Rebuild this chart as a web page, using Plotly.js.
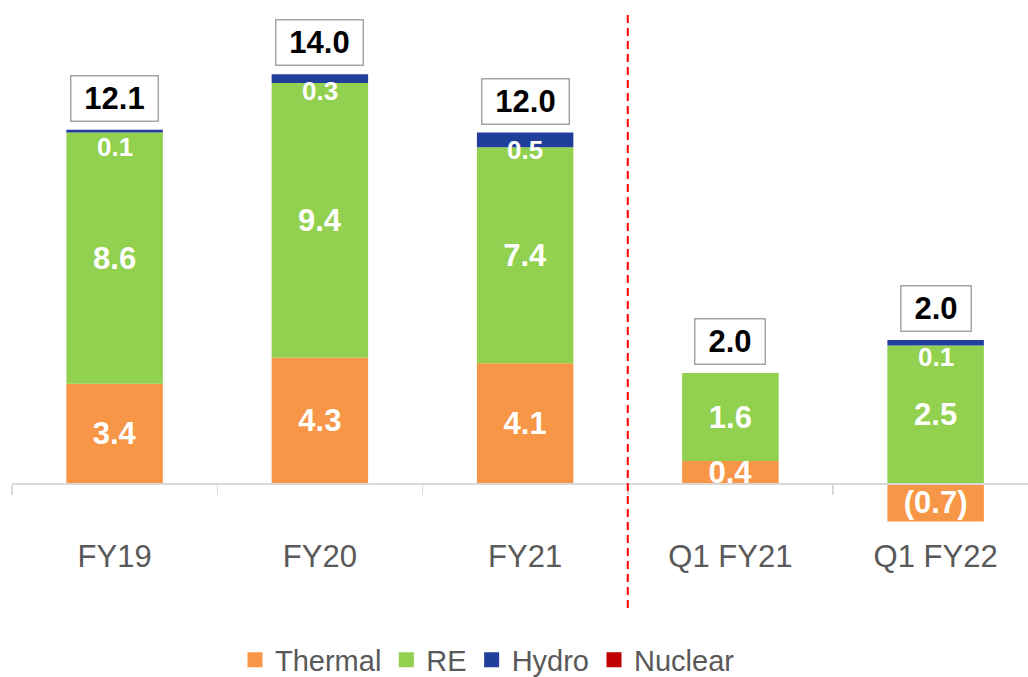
<!DOCTYPE html>
<html>
<head>
<meta charset="utf-8">
<script src="https://cdn.plot.ly/plotly-3.0.1.min.js"></script>
<style>html,body{margin:0;padding:0;background:#fff;}#chart{width:1028px;height:677px;}</style>
</head>
<body>
<div id="chart"></div>
<script>
// ---- data ----
const categories = ["FY19", "FY20", "FY21", "Q1 FY21", "Q1 FY22"];
const thermal = [3.4, 4.3, 4.1, 0.4, -0.7];
const re      = [8.6, 9.4, 7.4, 1.6, 2.5];
const hydro   = [0.1, 0.3, 0.5, 0.0, 0.1];
const nuclear = [0, 0, 0, 0, 0];
const totals  = [12.1, 14.0, 12.0, 2.0, 2.0];

// ---- helpers ----
const nAnnual = 3;
const colors = {Thermal: "#F79646", RE: "#92D050", Hydro: "#203F9A", Nuclear: "#C00000"};
const FONT = "Liberation Sans, Arial, sans-serif";
function fmt(v) { return v < 0 ? "(" + Math.abs(v).toFixed(1) + ")" : v.toFixed(1); }
function part(arr, annual) { return annual ? arr.slice(0, nAnnual) : arr.slice(nAnnual); }

const series = [
  {name: "Thermal", vals: thermal, label: true},
  {name: "RE", vals: re, label: true},
  {name: "Hydro", vals: hydro, label: false},
  {name: "Nuclear", vals: nuclear, label: false}
];

const traces = [];
// legend entries (square swatches)
series.forEach(s => {
  traces.push({
    type: "scatter", mode: "markers", name: s.name, legendgroup: s.name,
    x: [null], y: [null], showlegend: true, hoverinfo: "skip",
    marker: {symbol: "square", size: 15, color: colors[s.name], line: {width: 0}}
  });
});
[true, false].forEach(annual => {
  series.forEach(s => {
    const ys = part(s.vals, annual);
    traces.push({
      type: "bar",
      name: s.name,
      legendgroup: s.name,
      showlegend: false,
      x: part(categories, annual),
      y: ys,
      yaxis: annual ? "y" : "y2",
      marker: {color: colors[s.name], line: {width: 0}},
      text: s.label ? ys.map(fmt) : ys.map(() => ""),
      textposition: "inside",
      insidetextanchor: "middle",
      textangle: 0,
      textfont: {family: FONT, size: 31, color: "#FFFFFF", weight: "bold"},
      hoverinfo: "x+y+name"
    });
  });
});

function boxWidth(str, size) {
  let w = 0;
  for (const ch of str) w += (ch === "." ? 0.278 : 0.556);
  return Math.round(w * size + 24);
}

const annotations = [];
categories.forEach((c, i) => {
  const annual = i < nAnnual;
  const yref = annual ? "y" : "y2";
  const posTop = [thermal[i], re[i], hydro[i], nuclear[i]].filter(v => v > 0).reduce((a, b) => a + b, 0);
  if (hydro[i] > 0) {
    annotations.push({
      x: c, y: posTop, xref: "x", yref: yref, yanchor: "top", yshift: 0,
      text: "<b>" + fmt(hydro[i]) + "</b>", showarrow: false,
      font: {family: FONT, size: 26, color: "#FFFFFF"}
    });
  }
  const t = fmt(totals[i]);
  annotations.push({
    x: c, y: posTop, xref: "x", yref: yref, yanchor: "bottom", yshift: 8,
    text: "<b>" + t + "</b>", showarrow: false,
    font: {family: FONT, size: 31, color: "#000000"},
    bgcolor: "#FFFFFF", bordercolor: "#A6A6A6", borderwidth: 1.5,
    width: boxWidth(t, 31), height: 42, borderpad: 1
  });
});

const plotH = 600, zeroPx = 483;
const zeroFrac = (plotH - zeroPx) / plotH;
const pxPerUnitY = 29.2, pxPerUnitY2 = 55;

const layout = {
  width: 1028, height: 677,
  margin: {l: 12, r: 0, t: 0, b: 677 - plotH, autoexpand: false},
  paper_bgcolor: "#FFFFFF", plot_bgcolor: "#FFFFFF",
  barmode: "relative",
  bargap: 0.53,
  showlegend: true,
  font: {family: FONT, color: "#595959"},
  uniformtext: {mode: "show", minsize: 31},
  xaxis: {
    type: "category",
    categoryorder: "array", categoryarray: categories,
    range: [-0.5, 4.45],
    anchor: "free", position: zeroFrac,
    showline: true, linecolor: "#D9D9D9", linewidth: 1.5,
    ticks: "outside", tickson: "boundaries", ticklen: 10, tickcolor: "#D9D9D9", tickwidth: 1.5,
    ticklabelstandoff: 45,
    tickfont: {family: FONT, size: 31, color: "#595959"},
    showgrid: false, zeroline: false, fixedrange: true, automargin: false
  },
  yaxis: {
    range: [-(plotH - zeroPx) / pxPerUnitY, zeroPx / pxPerUnitY],
    visible: false, showgrid: false, zeroline: false, fixedrange: true
  },
  yaxis2: {
    overlaying: "y",
    range: [-(plotH - zeroPx) / pxPerUnitY2, zeroPx / pxPerUnitY2],
    visible: false, showgrid: false, zeroline: false, fixedrange: true
  },
  legend: {
    orientation: "h", x: 0.468, xanchor: "center", y: (plotH - 660) / plotH, yanchor: "middle",
    traceorder: "normal",
    font: {family: FONT, size: 29, color: "#595959"},
    itemclick: false, itemdoubleclick: false
  },
  shapes: [{
    type: "line", xref: "x", yref: "paper",
    x0: 2.5, x1: 2.5, y0: (plotH - 608) / plotH, y1: (plotH - 10) / plotH,
    line: {color: "#FF0000", width: 2, dash: "8px,5px"}
  }],
  annotations: annotations
};

Plotly.newPlot("chart", traces, layout, {displayModeBar: false, staticPlot: true});
</script>
</body>
</html>
